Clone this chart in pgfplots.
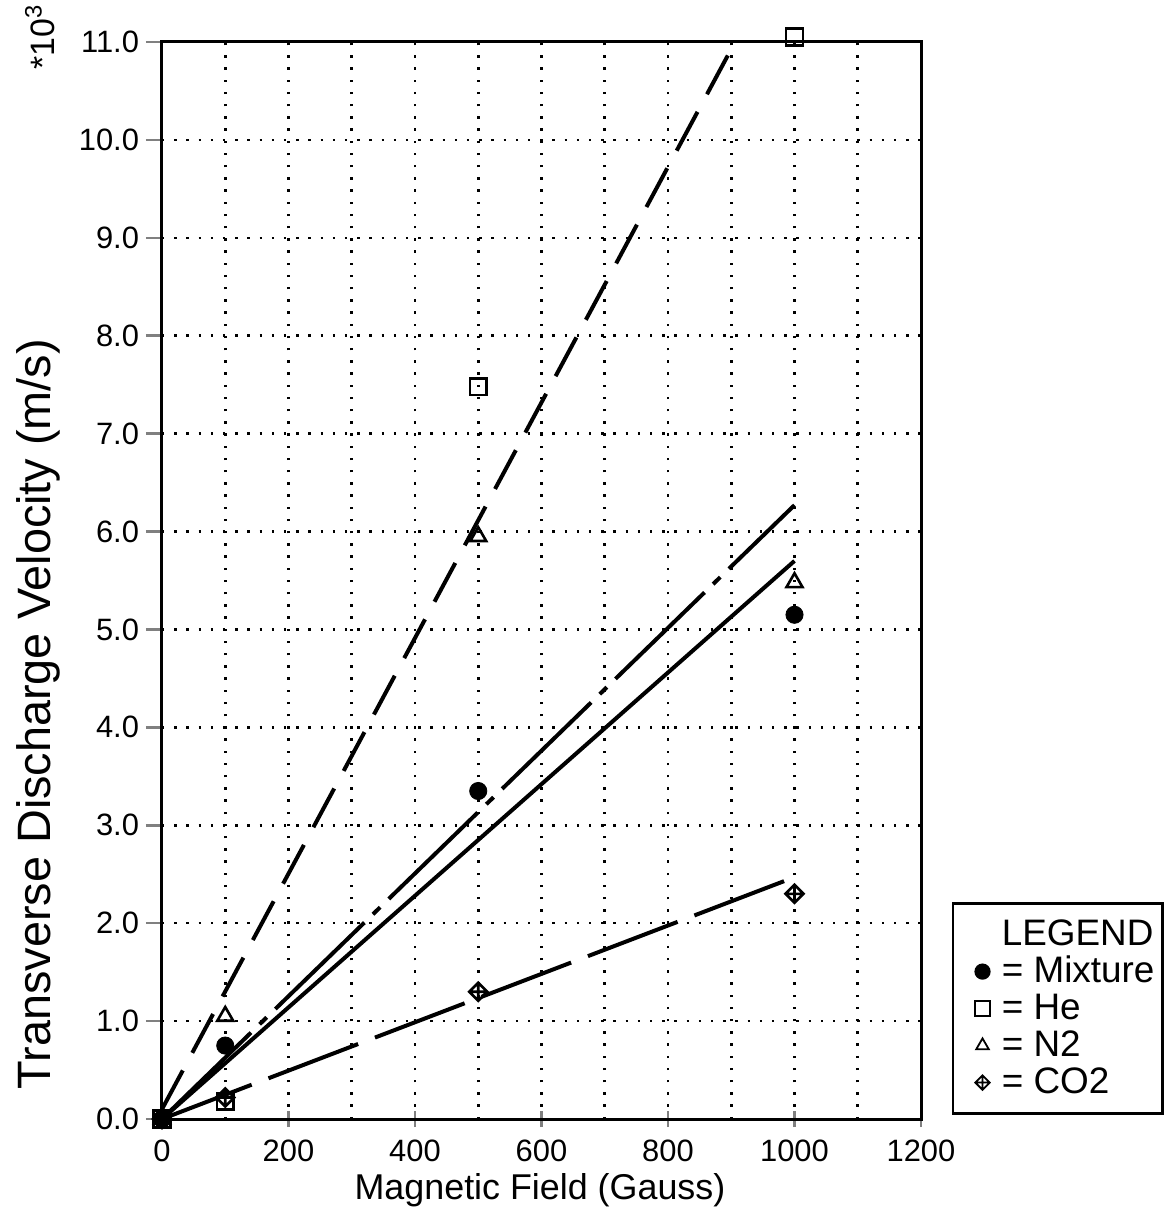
\documentclass[border=0pt]{standalone}
\usepackage{pgfplots}
\pgfplotsset{compat=1.18}
\usepackage{fontspec}
\setmainfont{Liberation Sans}
\setsansfont{Liberation Sans}
\pgfdeclareplotmark{crossdiamond}{%
  \pgfpathmoveto{\pgfqpoint{0pt}{\pgfplotmarksize}}%
  \pgfpathlineto{\pgfqpoint{\pgfplotmarksize}{0pt}}%
  \pgfpathlineto{\pgfqpoint{0pt}{-\pgfplotmarksize}}%
  \pgfpathlineto{\pgfqpoint{-\pgfplotmarksize}{0pt}}%
  \pgfpathclose
  \pgfpathmoveto{\pgfqpoint{0pt}{\pgfplotmarksize}}%
  \pgfpathlineto{\pgfqpoint{0pt}{-\pgfplotmarksize}}%
  \pgfpathmoveto{\pgfqpoint{\pgfplotmarksize}{0pt}}%
  \pgfpathlineto{\pgfqpoint{-\pgfplotmarksize}{0pt}}%
  \pgfusepathqstroke}
\begin{document}
\begin{tikzpicture}
\begin{axis}[
  at={(0bp,0bp)}, anchor=south west,
  width=379.5bp, height=538.5bp, scale only axis,
  xmin=0, xmax=1200, ymin=0, ymax=11,
  clip=false,
  axis line style={line width=1.5bp},
  xtick={0,200,...,1200}, minor xtick={100,300,...,1100},
  ytick={0,1,...,11},
  xtick pos=bottom, ytick pos=left,
  tick align=center, major tick length=8bp, minor tick length=0bp,
  xtick style={line width=1.3bp},
  ytick style={line width=1.3bp, xshift=-4bp},
  grid=both,
  major grid style={line width=1.3bp, dash pattern=on 1.2bp off 4.9bp, black},
  minor grid style={line width=1.3bp, dash pattern=on 1.2bp off 4.9bp, black},
  ticklabel style={font=\fontsize{15.5}{17}\selectfont},
  /pgf/number format/assume math mode=true,
  xticklabel style={/pgf/number format/1000 sep={}, yshift=-3bp},
  yticklabel style={xshift=-4bp, /pgf/number format/fixed, /pgf/number format/fixed zerofill, /pgf/number format/precision=1},
  xlabel={Magnetic Field (Gauss)},
  xlabel style={font=\fontsize{18}{20}\selectfont, at={(axis description cs:0.498,-0.066)}, anchor=center},
  ylabel={Transverse Discharge Velocity (m/s)},
  ylabel style={font=\fontsize{23.5}{25}\selectfont, at={(axis description cs:-0.163,0.376)}, anchor=center},
  legend style={at={(axis description cs:1.041,0.004)}, anchor=south west,
    draw=black, line width=1.1bp, font=\fontsize{18.5}{20}\selectfont,
    inner xsep=3bp, inner ysep=8bp, row sep=3.5bp,
    nodes={inner xsep=1bp, inner ysep=0bp, text height=13bp, text depth=2bp}},
  legend cell align=left,
  legend image code/.code={\path (-11bp,0bp) (8bp,0bp); \draw[#1, mark size=3.6bp, line width=0.9bp] plot coordinates {(0bp,0bp)};},
]
% fitted lines
\addplot[forget plot, black, line width=2bp] coordinates {(0,0) (1000,5.70)};
\addplot[forget plot, black, line width=2bp, dash pattern=on 62bp off 6bp on 5bp off 6bp] coordinates {(0,0) (1000,6.27)};
\addplot[forget plot, black, line width=2bp, dash pattern=on 22bp off 10bp] coordinates {(0,0.10) (906,11.0)};
\addplot[forget plot, black, line width=2bp, dash pattern=on 48bp off 9bp] coordinates {(0,0) (1000,2.47)};
% legend title
\addlegendimage{empty legend}
\addlegendentry{LEGEND}
% data
\addplot[only marks, mark=*, mark size=4.3bp, black] coordinates {(0,0) (100,0.75) (500,3.35) (1000,5.15)};
\addlegendentry{= Mixture}
\addplot[only marks, mark=square, mark size=4.2bp, line width=1.3bp, black] coordinates {(0,0) (100,0.18) (500,7.48) (1000,11.05)};
\addlegendentry{= He}
\addplot[only marks, mark=triangle, mark size=4.6bp, line width=1.3bp, black] coordinates {(0,0) (100,1.05) (500,5.95) (1000,5.48)};
\addlegendentry{= N2}
\addplot[only marks, mark=crossdiamond, mark size=4.5bp, line width=1.3bp, black] coordinates {(0,0) (100,0.22) (500,1.30) (1000,2.30)};
\addlegendentry{= CO2}
\node[rotate=90, font=\fontsize{17}{19}\selectfont, anchor=center] at (rel axis cs:-0.161,1.0045) {*10\textsuperscript{3}};
\end{axis}
\pgfresetboundingbox
\path (-81bp,-48.5bp) rectangle (502.5bp,559.5bp);
\end{tikzpicture}
\end{document}
